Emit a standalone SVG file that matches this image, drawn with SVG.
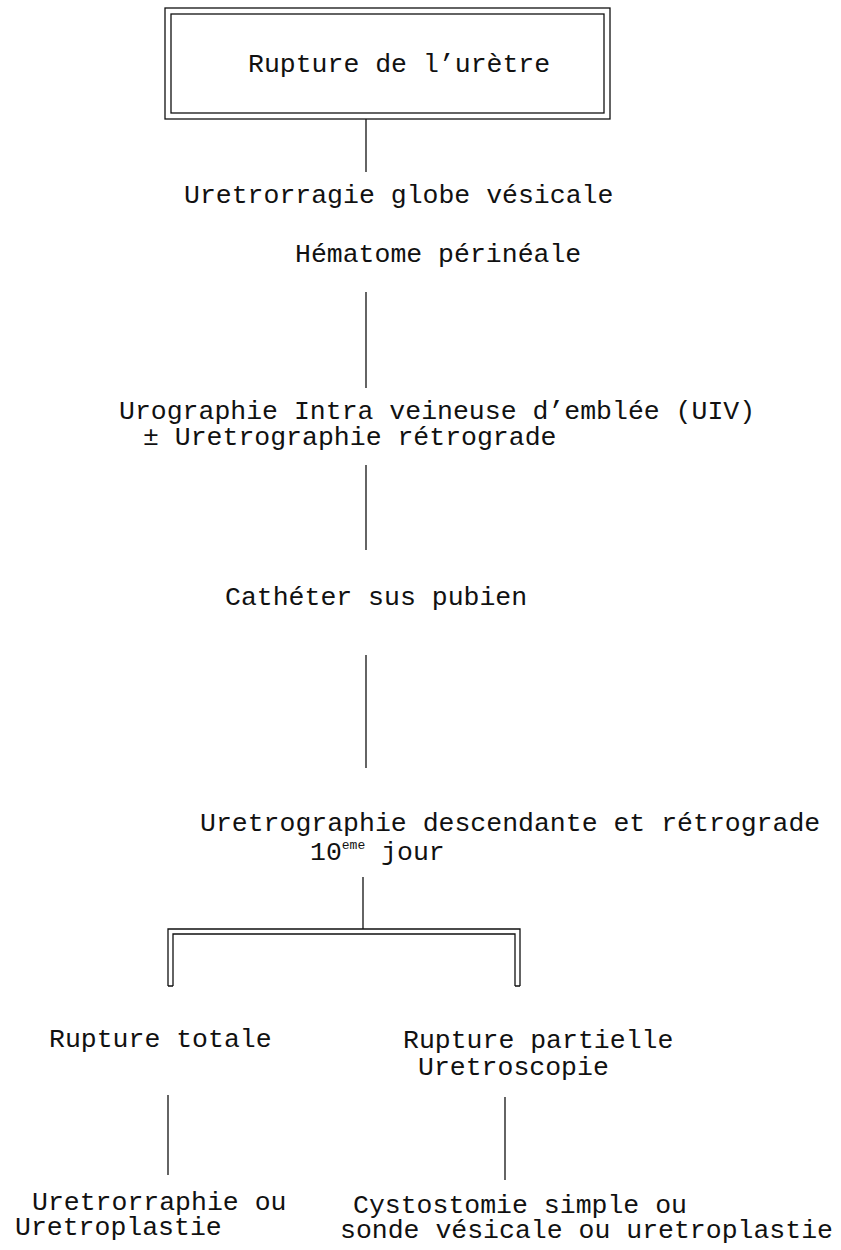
<svg xmlns="http://www.w3.org/2000/svg" width="841" height="1250" viewBox="0 0 841 1250">
  <style>
    text { font-family: "Liberation Mono", "Courier New", monospace; font-size: 26.5px; fill: #111; }
    .sup { font-size: 13px; }
    .ln { stroke: #111; stroke-width: 1.3; fill: none; }
  </style>
  <rect x="0" y="0" width="841" height="1250" fill="#fff"/>

  <g id="rupture-uretre">
    <rect class="ln" x="165" y="8" width="445" height="111"/>
    <rect class="ln" x="171" y="14" width="433" height="99"/>
    <text x="248" y="72">Rupture de l’urètre</text>
  </g>

  <g id="signes-cliniques">
    <text x="184" y="203">Uretrorragie globe vésicale</text>
    <text x="295" y="262">Hématome périnéale</text>
  </g>

  <g id="uiv">
    <text x="119" y="419">Urographie Intra veineuse d’emblée (UIV)</text>
    <text x="143" y="445">± Uretrographie rétrograde</text>
  </g>

  <g id="catheter">
    <text x="225" y="605">Cathéter sus pubien</text>
  </g>

  <g id="uretrographie-j10">
    <text x="200" y="831">Uretrographie descendante et rétrograde</text>
    <text x="310" y="860">10<tspan class="sup" dy="-11">eme</tspan><tspan dy="11"> jour</tspan></text>
  </g>

  <g id="rupture-totale">
    <text x="49" y="1047">Rupture totale</text>
  </g>

  <g id="rupture-partielle">
    <text x="403" y="1048">Rupture partielle</text>
    <text x="418" y="1075">Uretroscopie</text>
  </g>

  <g id="traitement-totale">
    <text x="32" y="1210">Uretrorraphie ou</text>
    <text x="15" y="1235">Uretroplastie</text>
  </g>

  <g id="traitement-partielle">
    <text x="353" y="1213">Cystostomie simple ou</text>
    <text x="340" y="1238">sonde vésicale ou uretroplastie</text>
  </g>

  <g id="connectors">
    <line class="ln" x1="366" y1="119" x2="366" y2="172"/>
    <line class="ln" x1="366" y1="292" x2="366" y2="388"/>
    <line class="ln" x1="366" y1="465" x2="366" y2="550"/>
    <line class="ln" x1="366" y1="655" x2="366" y2="768"/>
    <line class="ln" x1="363" y1="877" x2="363" y2="929"/>
    <!-- double-ruled bracket -->
    <path class="ln" d="M168,986 V929 H520 V986"/>
    <path class="ln" d="M173,986 V934 H515 V986"/>
    <path class="ln" d="M168,986 H173 M515,986 H520"/>
    <line class="ln" x1="168" y1="1095" x2="168" y2="1175"/>
    <line class="ln" x1="505" y1="1097" x2="505" y2="1180"/>
  </g>
</svg>
